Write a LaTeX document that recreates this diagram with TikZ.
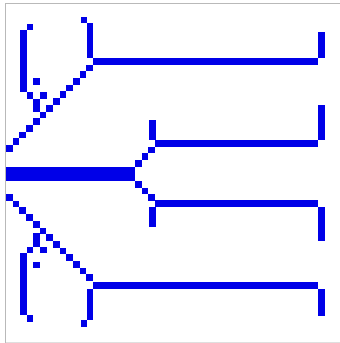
\documentclass[tikz,border=0pt]{standalone}
\usepackage{xcolor}
\usepackage{tikz}
\definecolor{treeblue}{RGB}{0,0,232}

\begin{document}
\begin{tikzpicture}[
    x=1pt, y=-1pt,
    pix/.style={fill=treeblue},
    frame/.style={draw=gray!55, line width=1pt},
]
\useasboundingbox (0,0) rectangle (340,343);

% Frame
\draw[frame] (5.5,343) -- (5.5,3) -- (340,3);
\draw[frame, draw=gray!25] (5.5,342) -- (340,342);

% Root bar
\fill[pix] (6,167) rectangle (135,181);

% Upper clade
\foreach \i in {0,...,12}
    \fill[pix] ({6+6.7*\i},{145-6.7*\i}) rectangle ++(6.7,6.7);
\fill[pix] (93,58) rectangle (318,65);
\fill[pix] (318,32) rectangle (325,58);
\fill[pix] (87,23) rectangle (93.1,58);
\fill[pix] (80.5,17) rectangle (87,23);
% upper side branch
\fill[pix] (33,98.5) rectangle (40,112);
\fill[pix] (26.5,92) rectangle (33,98.5);
\fill[pix] (40,92) rectangle (46.5,98.5);
\fill[pix] (20,30) rectangle (26.5,92);
\fill[pix] (26.5,23.5) rectangle (33,30);
\fill[pix] (33,78) rectangle (40,85);

% Middle clade
\foreach \i in {0,1,2} {
    \fill[pix] ({135+6.7*\i},{160-6.7*\i}) rectangle ++(6.7,6.7);
    \fill[pix] ({135+6.7*\i},{181+6.7*\i}) rectangle ++(6.7,6.7);
}
\fill[pix] (155,140) rectangle (318,147);
\fill[pix] (149,120) rectangle (155.5,140);
\fill[pix] (318,105) rectangle (325,140);
\fill[pix] (155,200) rectangle (318,207);
\fill[pix] (149,207) rectangle (155.5,227);
\fill[pix] (318,207) rectangle (325,241);

% Lower clade
\foreach \i in {0,...,12}
    \fill[pix] ({6+6.7*\i},{194+6.7*\i}) rectangle ++(6.7,6.7);
\fill[pix] (93,282) rectangle (318,289);
\fill[pix] (318,289) rectangle (325,316);
\fill[pix] (87,289) rectangle (93.1,320);
\fill[pix] (80.5,320) rectangle (87,327);
% lower side branch
\fill[pix] (33,233) rectangle (40,247);
\fill[pix] (26.5,247) rectangle (33,253);
\fill[pix] (40,247) rectangle (46.5,253);
\fill[pix] (20,253) rectangle (26.5,315);
\fill[pix] (26.5,315) rectangle (33,321.5);
\fill[pix] (33,262) rectangle (40,268);

\end{tikzpicture}
\end{document}
